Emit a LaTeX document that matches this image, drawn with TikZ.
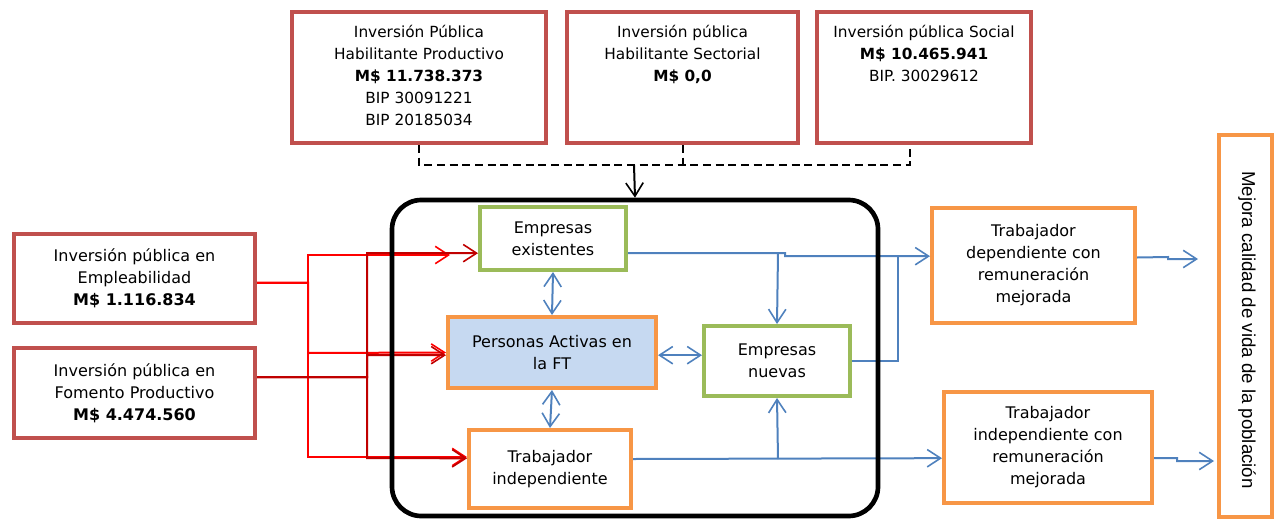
\documentclass[tikz,border=0pt]{standalone}
\usepackage{fontspec}
\setmainfont{DejaVu Sans}
\newfontfamily\vertfont{Liberation Sans}
\usetikzlibrary{arrows.meta}
\def\ux{0.75pt}
\definecolor{boxred}{HTML}{C0504D}
\definecolor{boxgreen}{HTML}{9BBB59}
\definecolor{boxorange}{HTML}{F79646}
\definecolor{fillblue}{HTML}{C6D9F1}
\definecolor{linkblue}{HTML}{4F81BD}
\definecolor{darkred}{HTML}{C00000}
\tikzset{
  box/.style={draw, line width=3pt, inner sep=0pt, align=center, font=\fontsize{12}{16.5}\selectfont},
  redbox/.style={box, draw=boxred},
  greenbox/.style={box, draw=boxgreen},
  orangebox/.style={box, draw=boxorange},
  txt/.style={inner sep=0pt, align=center, font=\fontsize{11.5}{16.5}\selectfont},
  tip/.style={-{Straight Barb[length=10pt,width=13pt,line width=1.2pt]}},
  dbltip/.style={{Straight Barb[length=10pt,width=13pt,line width=1.2pt]}-{Straight Barb[length=10pt,width=13pt,line width=1.2pt]}},
  blueline/.style={draw=linkblue, line width=1.5pt},
  brightline/.style={draw=red, line width=1.5pt},
  darkline/.style={draw=darkred, line width=1.5pt},
  dashline/.style={draw=black, line width=1.5pt, dash pattern=on 6pt off 3.5pt}
}
\begin{document}
\begin{tikzpicture}[x=0.75pt, y=-0.75pt]
\useasboundingbox (0,0) rectangle (1276,521);

% top boxes
\node[redbox, minimum width=254*\ux, minimum height=131*\ux] (hab) at (419,77.5) {};
\node[txt, anchor=north] (habtxt) at (419,25) {Inversión Pública\\Habilitante Productivo\\\textbf{M\$ 11.738.373}\\BIP 30091221\\BIP 20185034};
\node[redbox, minimum width=231*\ux, minimum height=131*\ux] (sec) at (682.5,77.5) {};
\node[txt, anchor=north] (sectxt) at (682.5,25) {Inversión pública\\Habilitante Sectorial\\\textbf{M\$ 0,0}};
\node[redbox, minimum width=214*\ux, minimum height=131*\ux] (soc) at (924,77.5) {};
\node[txt, anchor=north] (soctxt) at (924,25) {Inversión pública Social\\\textbf{M\$ 10.465.941}\\BIP. 30029612};

% left boxes
\node[redbox, minimum width=241*\ux, minimum height=89*\ux] (emp) at (134.5,278.5) {Inversión pública en\\Empleabilidad\\\textbf{M\$ 1.116.834}};
\node[redbox, minimum width=241*\ux, minimum height=90*\ux] (fom) at (134.5,393) {Inversión pública en\\Fomento Productivo\\\textbf{M\$ 4.474.560}};

% inner boxes
\node[greenbox, minimum width=146*\ux, minimum height=63*\ux] (exist) at (553,238.5) {Empresas\\existentes};
\node[orangebox, fill=fillblue, minimum width=208*\ux, minimum height=71*\ux] (pers) at (552,352.5) {Personas Activas en\\la FT};
\node[greenbox, minimum width=146*\ux, minimum height=70*\ux] (nuevas) at (777,361) {Empresas\\nuevas};
\node[orangebox, minimum width=162*\ux, minimum height=78*\ux] (tind) at (550,469) {Trabajador\\independiente};

% right boxes
\node[orangebox, minimum width=203*\ux, minimum height=115*\ux] (tdep) at (1033.5,265.5) {Trabajador\\dependiente con\\remuneración\\mejorada};
\node[orangebox, minimum width=208*\ux, minimum height=111*\ux] (tindm) at (1048,447.5) {Trabajador\\independiente con\\remuneración\\mejorada};
\node[orangebox, minimum width=53*\ux, minimum height=382*\ux] (calidad) at (1245.5,326) {};
\node[txt, rotate=-90, font=\vertfont\fontsize{14}{16}\selectfont] (calidadtxt) at (1247,330) {Mejora calidad de vida de la población};

% red links
\draw[brightline, tip] ([yshift=-3pt]emp.east) -| (308,255) -- (450,255);
\draw[brightline, tip] ([yshift=-3pt]emp.east) -| (308,353) -- (pers.west);
\draw[brightline, tip] ([yshift=-3pt]emp.east) -| (308,457) -- ([yshift=9pt]tind.west);
\draw[darkline, tip] ([yshift=12pt]fom.east) -| (367,253) -- ([yshift=-11pt]exist.west);
\draw[darkline, tip] ([yshift=12pt]fom.east) -| (367,355) -- ([yshift=-2pt]pers.west);
\draw[darkline, tip] ([yshift=12pt]fom.east) -| (367,458) -- ([yshift=8pt]tind.west);

% blue links
\coordinate (bj1) at (778,253);
\coordinate (bj2) at (898,256);
\coordinate (bj3) at (778,459);
\draw[blueline, tip] ([yshift=-11pt]exist.east) -- (785,253) -- (785,256) -- ([yshift=7pt]tdep.west);
\draw[blueline, tip] (bj1) -- (nuevas.north);
\draw[blueline] (nuevas.east) -| (bj2);
\draw[blueline, dbltip] ([yshift=-2pt]pers.east) -- ([yshift=-2pt]pers.east -| nuevas.west);
\draw[blueline, dbltip] (exist.south) -- (pers.north);
\draw[blueline, dbltip] (pers.south) -- (tind.north);
\draw[blueline, tip] ([yshift=7.5pt]tind.east) -- ([yshift=-8pt]tindm.west);
\draw[blueline, tip] (bj3) -- (nuevas.south);
\coordinate (cq1) at (1198,259);
\coordinate (cq2) at (1214,461);
\draw[blueline, tip] ([yshift=6pt]tdep.east) -- (1168,257) |- (cq1);
\draw[blueline, tip] ([yshift=-8pt]tindm.east) -- (1177,458) |- (cq2);

% frame
\node[draw, line width=3.5pt, rounded corners=22pt, minimum width=486*\ux, minimum height=316*\ux] (frame) at (635,358) {};

% dashed links
\coordinate (dc) at (910,165);
\coordinate (dj) at (634,165);
\draw[dashline] (hab.south) |- (dc) -- (dc |- soc.south);
\draw[dashline] (sec.south) -- (sec.south |- dc);
\draw[line width=1.5pt, tip] (dj) -- (frame.north);

\end{tikzpicture}
\end{document}
